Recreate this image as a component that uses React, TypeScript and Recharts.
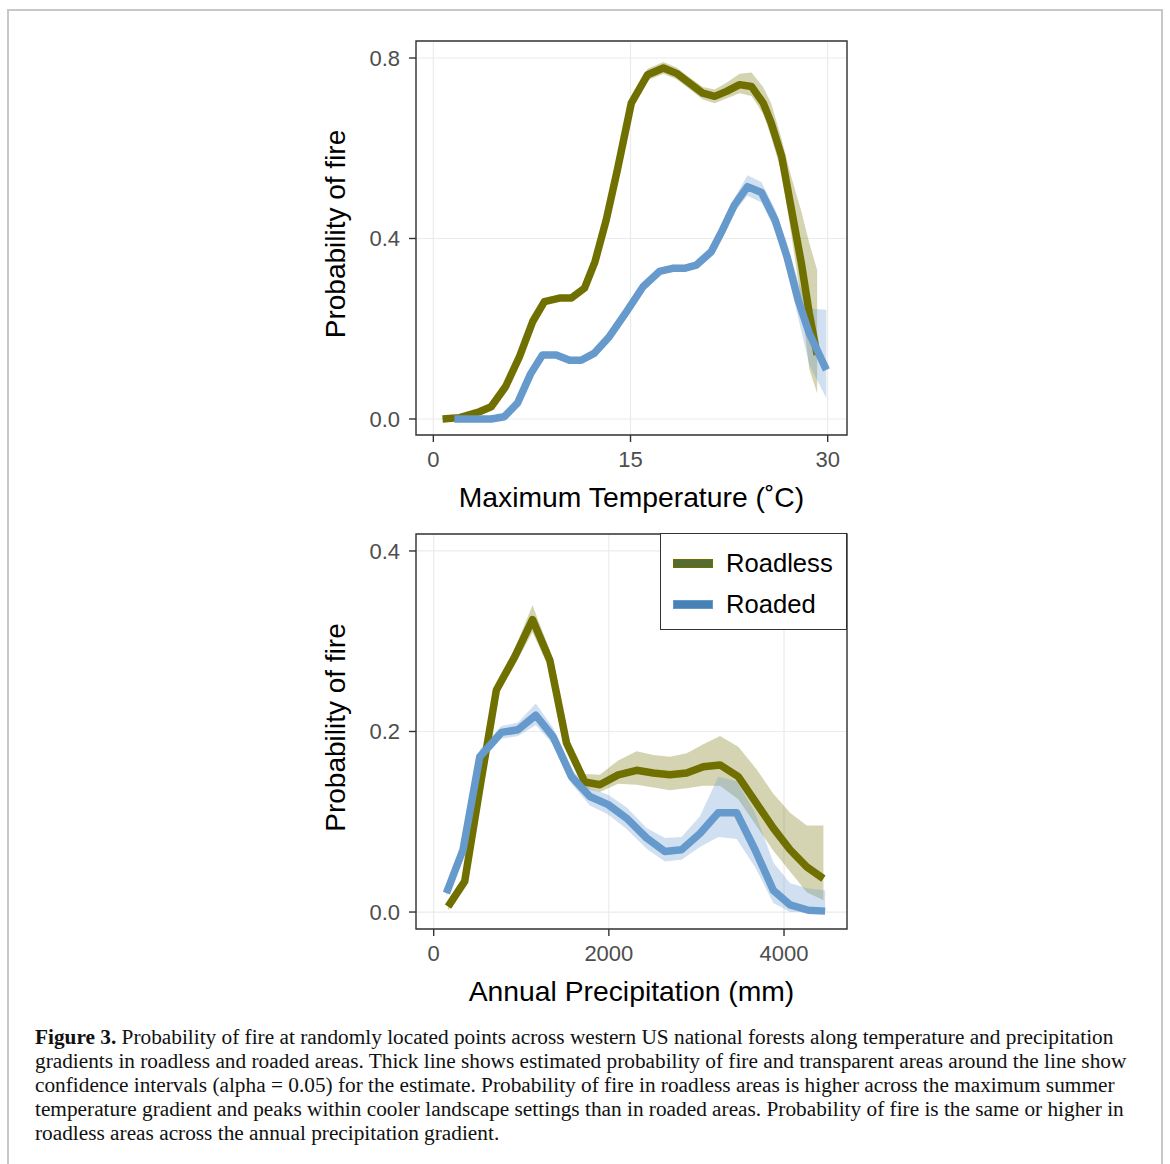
import React from 'react';
import { ComposedChart, Line, Area, XAxis, YAxis, CartesianGrid, ReferenceArea } from 'recharts';

// ---- series meta ----
const seriesNames = ['Roadless', 'Roaded'];
const seriesColors = ['#707000', '#6699CC'];
const legendFills = ['#556B2F', '#4682B4'];

// ---- Panel 1: Maximum Temperature (°C) ----
const tempRoadless = [0.7, 2.0, 3.5, 4.4, 5.5, 6.55, 7.56, 8.45, 9.6, 10.5, 11.5, 12.3, 13.15, 14.0, 15.06, 16.3, 17.5, 18.5, 19.5, 20.5, 21.4, 22.3, 23.3, 24.2, 25.1, 25.7, 26.5, 27.2, 28.0, 28.6, 29.2];
const probRoadlessT = [0.0, 0.003, 0.016, 0.027, 0.072, 0.138, 0.216, 0.26, 0.268, 0.268, 0.29, 0.349, 0.441, 0.552, 0.7, 0.763, 0.778, 0.766, 0.744, 0.722, 0.715, 0.726, 0.741, 0.737, 0.7, 0.656, 0.582, 0.471, 0.345, 0.234, 0.142];
const lowRoadlessT = [0.0, 0.001, 0.012, 0.022, 0.066, 0.131, 0.209, 0.253, 0.261, 0.261, 0.283, 0.341, 0.432, 0.542, 0.689, 0.75, 0.765, 0.753, 0.731, 0.708, 0.7, 0.71, 0.722, 0.716, 0.676, 0.625, 0.545, 0.415, 0.26, 0.11, 0.057];
const highRoadlessT = [0.002, 0.005, 0.02, 0.032, 0.078, 0.145, 0.223, 0.267, 0.275, 0.275, 0.297, 0.357, 0.45, 0.562, 0.711, 0.776, 0.791, 0.779, 0.757, 0.736, 0.73, 0.745, 0.765, 0.768, 0.735, 0.7, 0.62, 0.54, 0.46, 0.39, 0.33];

const tempRoaded = [1.6, 4.4, 5.4, 6.4, 7.4, 8.3, 9.35, 10.36, 11.25, 12.26, 13.4, 14.7, 15.95, 17.2, 18.2, 19.1, 20.0, 21.15, 22.0, 22.9, 23.9, 24.96, 26.0, 26.9, 27.75, 28.6, 29.9];
const probRoadedT = [0.0, 0.0, 0.005, 0.035, 0.1, 0.142, 0.142, 0.13, 0.13, 0.146, 0.183, 0.238, 0.293, 0.327, 0.334, 0.334, 0.341, 0.371, 0.419, 0.474, 0.515, 0.502, 0.441, 0.36, 0.264, 0.19, 0.109];
const lowRoadedT = [0.0, 0.0, 0.002, 0.03, 0.094, 0.136, 0.136, 0.124, 0.124, 0.14, 0.177, 0.232, 0.287, 0.32, 0.326, 0.326, 0.333, 0.362, 0.407, 0.458, 0.495, 0.48, 0.418, 0.333, 0.225, 0.12, 0.046];
const highRoadedT = [0.004, 0.004, 0.009, 0.041, 0.106, 0.148, 0.148, 0.136, 0.136, 0.152, 0.189, 0.244, 0.299, 0.334, 0.342, 0.342, 0.349, 0.38, 0.431, 0.49, 0.54, 0.525, 0.465, 0.39, 0.305, 0.245, 0.242];

const tempXTicks = [0, 15, 30];
const tempYTicks = [0, 0.4, 0.8];

// ---- Panel 2: Annual Precipitation (mm) ----
const precipRoadless = [164, 354, 540, 716, 926, 1128, 1326, 1517, 1726, 1897, 2107, 2317, 2507, 2697, 2888, 3078, 3269, 3478, 3688, 3878, 4069, 4259, 4450];
const probRoadlessP = [0.006, 0.034, 0.145, 0.246, 0.283, 0.324, 0.279, 0.187, 0.144, 0.141, 0.152, 0.157, 0.154, 0.152, 0.154, 0.161, 0.163, 0.15, 0.12, 0.093, 0.069, 0.05, 0.037];
const lowRoadlessP = [0.002, 0.028, 0.137, 0.238, 0.274, 0.31, 0.268, 0.178, 0.137, 0.133, 0.142, 0.141, 0.138, 0.135, 0.137, 0.14, 0.14, 0.125, 0.095, 0.068, 0.045, 0.022, 0.013];
const highRoadlessP = [0.01, 0.04, 0.153, 0.254, 0.292, 0.34, 0.29, 0.196, 0.153, 0.152, 0.168, 0.178, 0.174, 0.172, 0.176, 0.186, 0.195, 0.183, 0.158, 0.131, 0.11, 0.096, 0.096];

const precipRoaded = [145, 335, 526, 773, 963, 1166, 1364, 1573, 1783, 1992, 2202, 2431, 2640, 2830, 3040, 3249, 3459, 3669, 3878, 4069, 4278, 4469];
const probRoadedP = [0.021, 0.069, 0.172, 0.199, 0.202, 0.218, 0.194, 0.15, 0.128, 0.119, 0.104, 0.082, 0.067, 0.069, 0.087, 0.11, 0.11, 0.069, 0.024, 0.008, 0.002, 0.001];
const lowRoadedP = [0.017, 0.063, 0.165, 0.192, 0.195, 0.207, 0.186, 0.142, 0.118, 0.108, 0.092, 0.07, 0.056, 0.058, 0.072, 0.083, 0.081, 0.05, 0.01, 0.0, 0.0, 0.0];
const highRoadedP = [0.025, 0.075, 0.18, 0.206, 0.21, 0.231, 0.204, 0.158, 0.137, 0.13, 0.116, 0.093, 0.082, 0.083, 0.106, 0.15, 0.145, 0.11, 0.055, 0.032, 0.026, 0.024];

const precipXTicks = [0, 2000, 4000];
const precipYTicks = [0, 0.2, 0.4];

// ---- caption ----
const captionLabel = 'Figure 3.';
const captionLines = [
  ' Probability of fire at randomly located points across western US national forests along temperature and precipitation',
  'gradients in roadless and roaded areas. Thick line shows estimated probability of fire and transparent areas around the line show',
  'confidence intervals (alpha = 0.05) for the estimate. Probability of fire in roadless areas is higher across the maximum summer',
  'temperature gradient and peaks within cooler landscape settings than in roaded areas. Probability of fire is the same or higher in',
  'roadless areas across the annual precipitation gradient.',
];

const SANS = '"Liberation Sans", Arial, Helvetica, sans-serif';
const SERIF = '"Liberation Serif", "Times New Roman", serif';

type Row = { x: number; y: number; range: [number, number] };
const toRows = (xs: number[], ys: number[], lo: number[], hi: number[]): Row[] =>
  xs.map((x, i) => ({ x, y: ys[i], range: [lo[i], hi[i]] as [number, number] }));

type PanelProps = {
  series: Row[][];
  xDomain: [number, number];
  yDomain: [number, number];
  xTicks: number[];
  yTicks: number[];
  xTitle: string;
  yTitle: string;
  height: number;
  xFmt: (v: number) => string;
  yFmt: (v: number) => string;
};

function Panel(p: PanelProps) {
  const tickStyle = { fill: '#4d4d4d', fontSize: 22, fontFamily: SANS };
  return (
    <ComposedChart
      width={536}
      height={p.height}
      margin={{ top: 11, right: 5, left: 0, bottom: 5 }}
    >
      <CartesianGrid stroke="#ebebeb" strokeWidth={1.2} />
      <XAxis
        type="number"
        dataKey="x"
        domain={p.xDomain}
        ticks={p.xTicks}
        allowDataOverflow
        axisLine={false}
        tickLine={{ stroke: '#333', strokeWidth: 1.4 }}
        tickSize={7}
        tickMargin={9}
        height={80}
        tick={tickStyle}
        tickFormatter={p.xFmt}
        label={{
          content: (props: any) => {
            const vb = props.viewBox || {};
            return (
              <text
                x={vb.x + vb.width / 2}
                y={vb.y + 72}
                textAnchor="middle"
                fontSize={28.3}
                fontFamily={SANS}
                fill="#000"
              >
                {p.xTitle}
              </text>
            );
          },
        }}
      />
      <YAxis
        type="number"
        domain={p.yDomain}
        ticks={p.yTicks}
        allowDataOverflow
        axisLine={false}
        tickLine={{ stroke: '#333', strokeWidth: 1.4 }}
        tickSize={7}
        tickMargin={9}
        width={100}
        tick={tickStyle}
        tickFormatter={p.yFmt}
        label={{
          content: (props: any) => {
            const vb = props.viewBox || {};
            const cx = vb.x + 29;
            const cy = vb.y + vb.height / 2 - 4;
            return (
              <text
                x={cx}
                y={cy}
                transform={`rotate(-90, ${cx}, ${cy})`}
                textAnchor="middle"
                fontSize={28}
                fontFamily={SANS}
                fill="#000"
              >
                {p.yTitle}
              </text>
            );
          },
        }}
      />
      {p.series.map((rows, i) => (
        <Area
          key={'band-' + i}
          data={rows}
          dataKey="range"
          type="linear"
          stroke="none"
          fill={seriesColors[i]}
          fillOpacity={0.3}
          isAnimationActive={false}
          dot={false}
          activeDot={false}
          legendType="none"
        />
      ))}
      {p.series.map((rows, i) => (
        <Line
          key={'line-' + i}
          data={rows}
          dataKey="y"
          name={seriesNames[i]}
          type="linear"
          stroke={seriesColors[i]}
          strokeWidth={7.5}
          strokeLinecap="butt"
          strokeLinejoin="round"
          dot={false}
          activeDot={false}
          isAnimationActive={false}
        />
      ))}
      <ReferenceArea
        x1={p.xDomain[0]}
        x2={p.xDomain[1]}
        y1={p.yDomain[0]}
        y2={p.yDomain[1]}
        fill="none"
        fillOpacity={0}
        stroke="#333"
        strokeWidth={1.4}
        ifOverflow="visible"
      />
    </ComposedChart>
  );
}

export default function App() {
  const tempSeries = [
    toRows(tempRoadless, probRoadlessT, lowRoadlessT, highRoadlessT),
    toRows(tempRoaded, probRoadedT, lowRoadedT, highRoadedT),
  ];
  const precipSeries = [
    toRows(precipRoadless, probRoadlessP, lowRoadlessP, highRoadlessP),
    toRows(precipRoaded, probRoadedP, lowRoadedP, highRoadedP),
  ];
  return (
    <div style={{ position: 'absolute', left: 0, top: 0, width: 1170, height: 1164, background: '#fff', overflow: 'hidden' }}>
      <div
        style={{
          position: 'absolute',
          left: 7,
          top: 9,
          width: 1152,
          height: 1200,
          border: '2px solid #c8c8c8',
          borderBottom: 'none',
        }}
      />
      <div style={{ position: 'absolute', left: 316, top: 30 }}>
        <Panel
          series={tempSeries}
          xDomain={[-1.32, 31.47]}
          yDomain={[-0.0355, 0.8377]}
          xTicks={tempXTicks}
          yTicks={tempYTicks}
          xTitle="Maximum Temperature (˚C)"
          yTitle="Probability of fire"
          height={490}
          xFmt={(v) => String(v)}
          yFmt={(v) => v.toFixed(1)}
        />
      </div>
      <div style={{ position: 'absolute', left: 316, top: 523 }}>
        <Panel
          series={precipSeries}
          xDomain={[-202, 4719]}
          yDomain={[-0.0188, 0.4188]}
          xTicks={precipXTicks}
          yTicks={precipYTicks}
          xTitle="Annual Precipitation (mm)"
          yTitle="Probability of fire"
          height={491}
          xFmt={(v) => String(v)}
          yFmt={(v) => v.toFixed(1)}
        />
      </div>
      {/* legend */}
      <div
        style={{
          position: 'absolute',
          left: 660,
          top: 533,
          width: 185,
          height: 95,
          border: '1.4px solid #333',
          background: '#fff',
          fontFamily: SANS,
        }}
      >
        {seriesNames.map((name, i) => (
          <div key={name} style={{ position: 'absolute', left: 0, top: i === 0 ? 13 : 54, height: 32, width: 185 }}>
            <div
              style={{
                position: 'absolute',
                left: 12,
                top: 12,
                width: 38,
                height: 7,
                background: legendFills[i],
                border: `1.5px solid ${seriesColors[i]}`,
              }}
            />
            <div style={{ position: 'absolute', left: 65, top: 0, fontSize: 25.6, lineHeight: '32px', color: '#000', whiteSpace: 'nowrap' }}>
              {name}
            </div>
          </div>
        ))}
      </div>
      {/* caption */}
      <div style={{ position: 'absolute', left: 35, top: 1025, fontFamily: SERIF, fontSize: 21.3, color: '#111' }}>
        {captionLines.map((ln, i) => (
          <div key={i} style={{ height: 24, lineHeight: '24px', whiteSpace: 'nowrap' }}>
            {i === 0 ? <b>{captionLabel}</b> : null}
            {ln}
          </div>
        ))}
      </div>
    </div>
  );
}
